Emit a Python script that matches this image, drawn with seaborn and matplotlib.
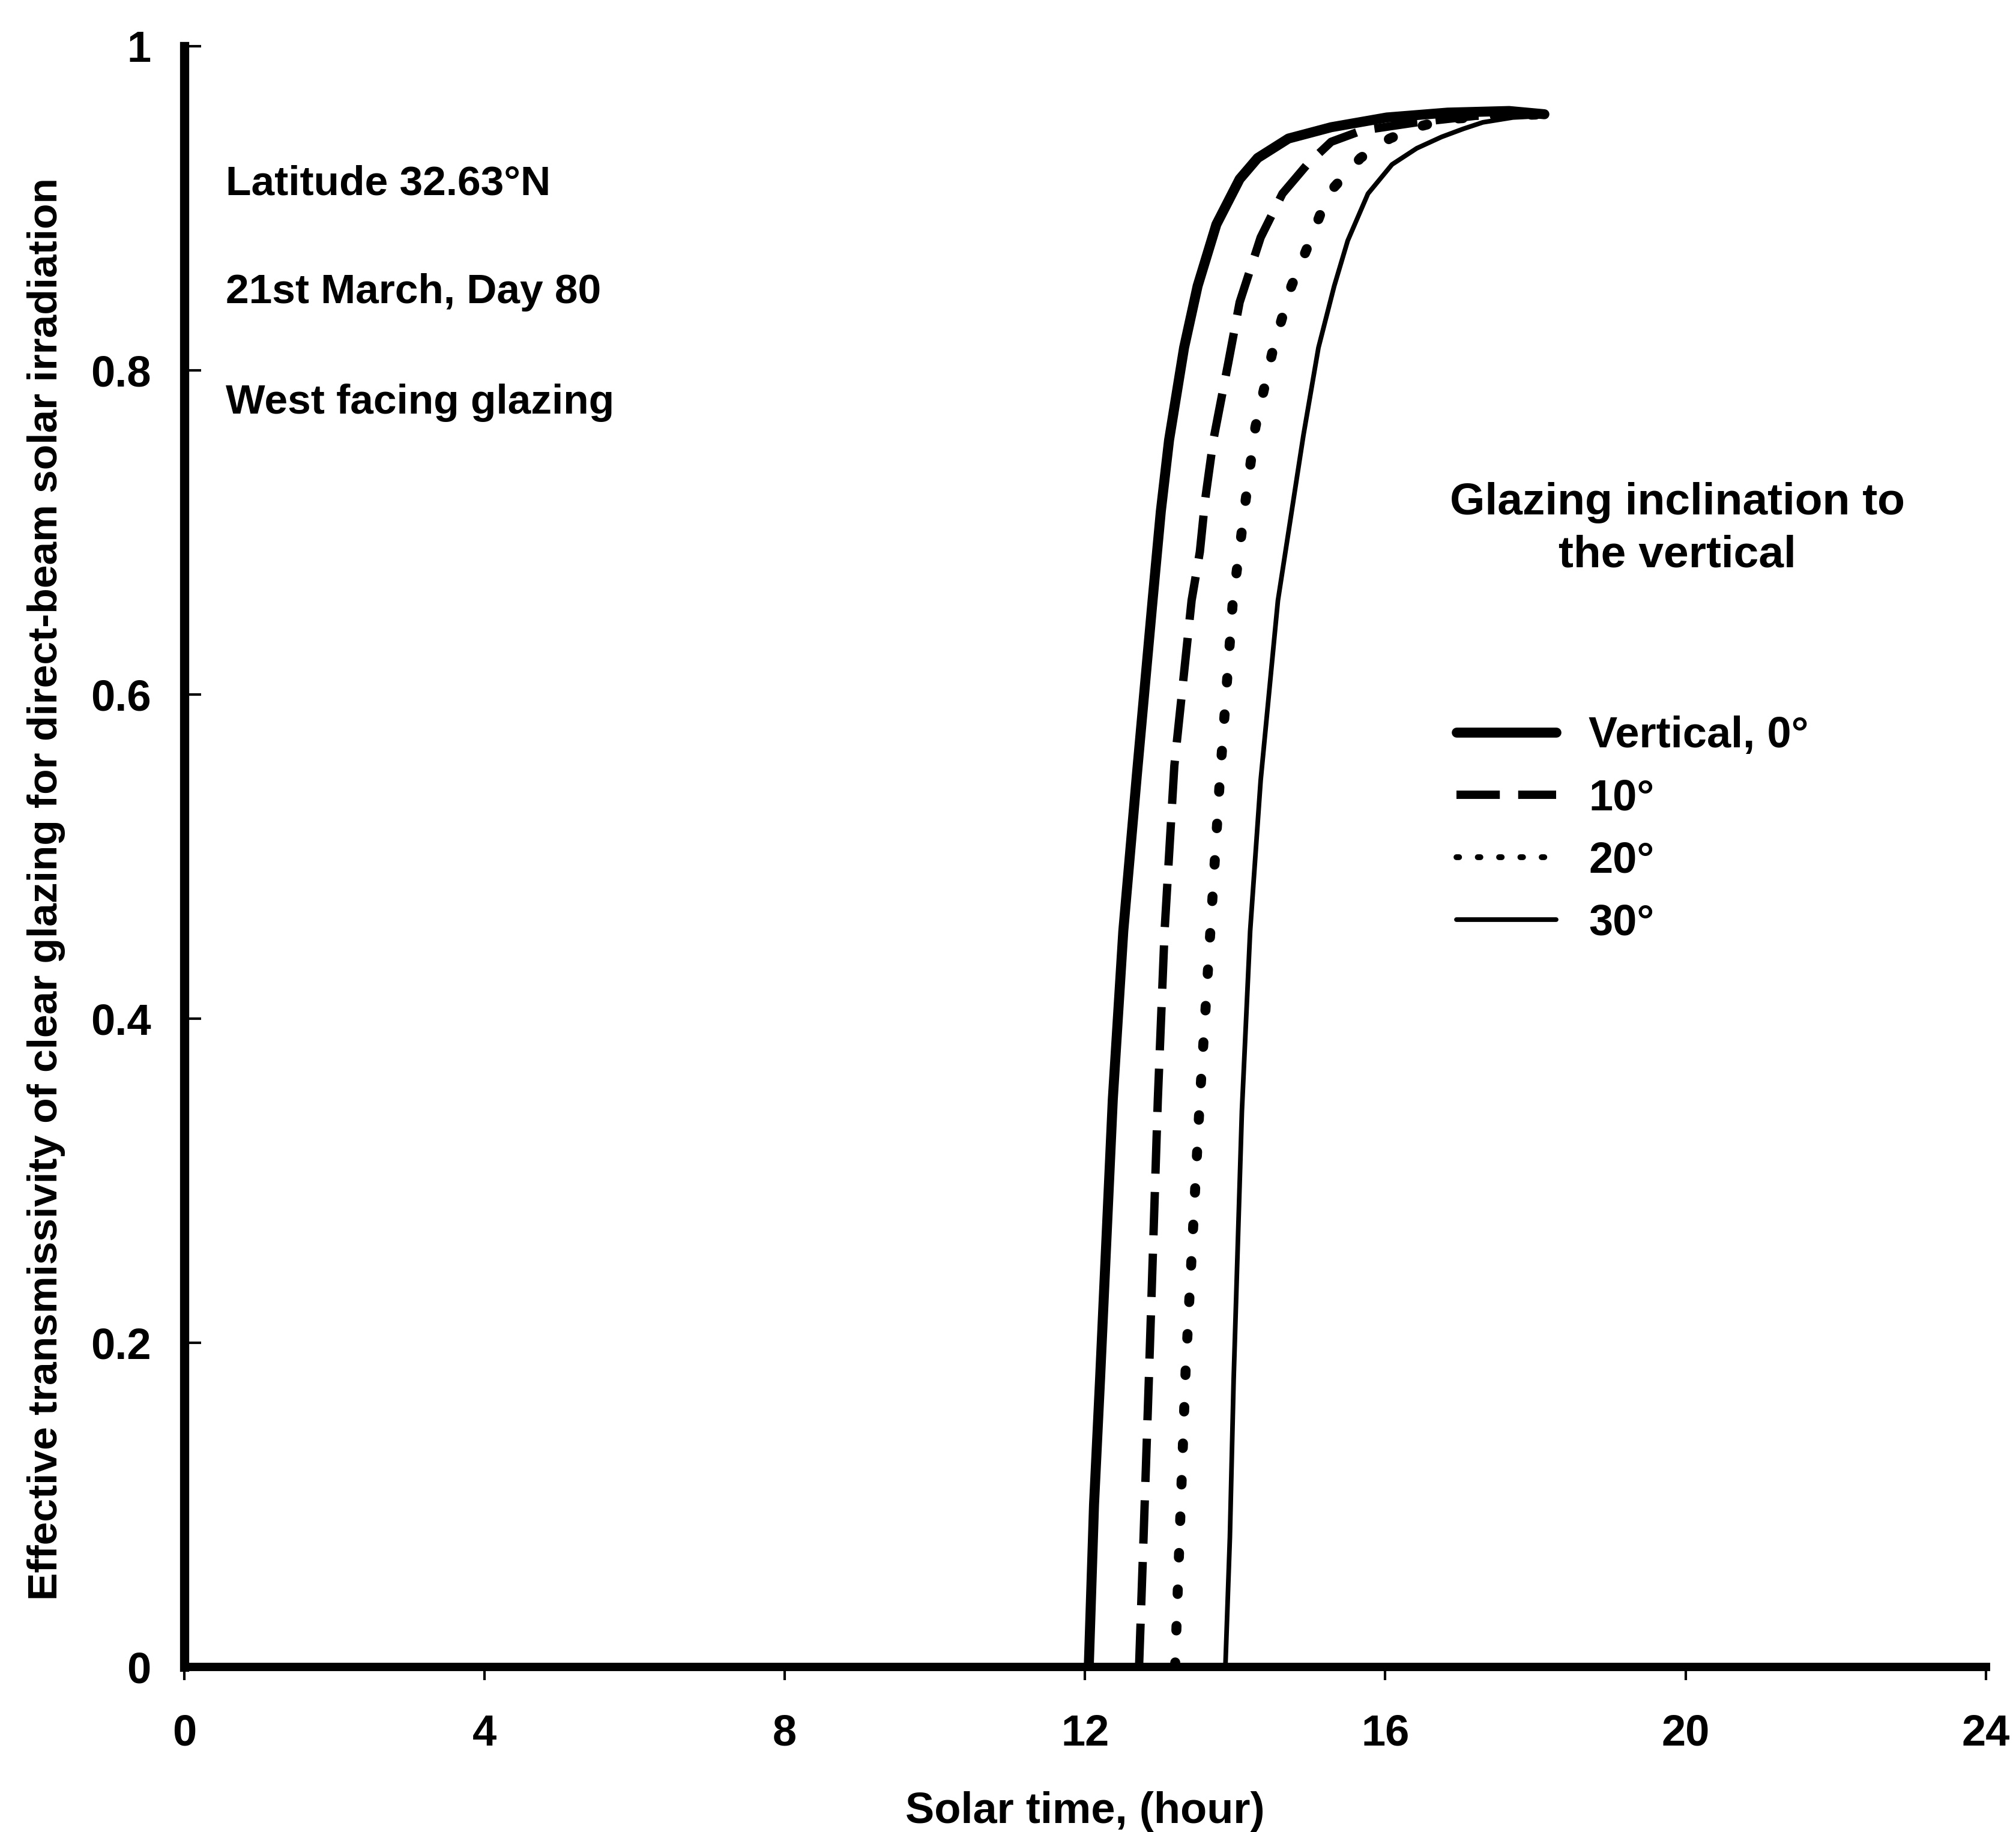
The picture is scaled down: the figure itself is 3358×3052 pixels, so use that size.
import numpy as np
import pandas as pd
import matplotlib
matplotlib.use("Agg")
import matplotlib.pyplot as plt
import seaborn as sns

# Solar time (hour) and effective transmissivity for each glazing inclination
hour_0 = [12.05, 12.12, 12.20, 12.37, 12.51, 12.69, 12.90, 13.01, 13.12, 13.32, 13.50,
          13.75, 14.06, 14.30, 14.71, 15.28, 16.02, 16.83, 17.65, 18.12]
tau_0 = [0.0, 0.10, 0.177, 0.35, 0.454, 0.55, 0.658, 0.713, 0.757, 0.814, 0.852,
         0.890, 0.918, 0.931, 0.943, 0.950, 0.956, 0.959, 0.960, 0.958]

hour_10 = [12.72, 12.78, 12.85, 12.97, 13.06, 13.19, 13.42, 13.53, 13.60, 13.71, 13.91,
           14.06, 14.34, 14.63, 14.96, 15.28, 15.69, 16.42, 17.20, 18.12]
tau_10 = [0.0, 0.08, 0.177, 0.35, 0.454, 0.556, 0.658, 0.688, 0.72, 0.757, 0.805,
          0.842, 0.882, 0.909, 0.927, 0.941, 0.948, 0.953, 0.957, 0.958]

hour_20 = [13.20, 13.26, 13.34, 13.53, 13.67, 13.80, 13.97, 14.06, 14.14, 14.27, 14.51,
           14.75, 15.00, 15.24, 15.67, 16.06, 16.42, 16.83, 17.50, 18.12]
tau_20 = [0.0, 0.08, 0.183, 0.35, 0.454, 0.55, 0.658, 0.69, 0.72, 0.765, 0.814,
          0.852, 0.880, 0.909, 0.931, 0.943, 0.950, 0.955, 0.957, 0.958]

hour_30 = [13.87, 13.93, 13.98, 14.09, 14.20, 14.34, 14.57, 14.71, 14.91, 15.11, 15.32,
           15.50, 15.77, 16.09, 16.42, 16.75, 17.04, 17.30, 17.70, 18.12]
tau_30 = [0.0, 0.08, 0.177, 0.343, 0.454, 0.547, 0.658, 0.70, 0.76, 0.814, 0.852,
          0.880, 0.909, 0.927, 0.937, 0.944, 0.949, 0.953, 0.956, 0.957]

series_labels = ["Vertical, 0°", "10°", "20°", "30°"]
x_ticks = [0, 4, 8, 12, 16, 20, 24]
y_ticks = [0, 0.2, 0.4, 0.6, 0.8, 1.0]
y_tick_labels = ["0", "0.2", "0.4", "0.6", "0.8", "1"]
notes = ["Latitude 32.63°N", "21st March, Day 80", "West facing glazing"]

frames = []
for lab, h, t in zip(series_labels, [hour_0, hour_10, hour_20, hour_30],
                     [tau_0, tau_10, tau_20, tau_30]):
    frames.append(pd.DataFrame({"hour": h, "tau": t, "incl": lab}))
df = pd.concat(frames, ignore_index=True)

sns.set_theme(style="white")
plt.rcParams["font.family"] = ["Liberation Sans", "DejaVu Sans"]
plt.rcParams["font.weight"] = "bold"
plt.rcParams["text.color"] = "black"
plt.rcParams["axes.labelcolor"] = "black"
plt.rcParams["xtick.color"] = "black"
plt.rcParams["ytick.color"] = "black"

fig = plt.figure(figsize=(16.79, 15.26), dpi=200)
ax = fig.add_axes([0.0914, 0.0901, 0.8936, 0.8847])

palette = {k: "black" for k in series_labels}
sizes = {"Vertical, 0°": 6.0, "10°": 5.0, "20°": 6.0, "30°": 2.8}
dashes = {"Vertical, 0°": "", "10°": (5.2, 2.2), "20°": (0.45, 3.2), "30°": ""}

sns.lineplot(data=df, x="hour", y="tau", hue="incl", style="incl", size="incl",
             palette=palette, sizes=sizes, dashes=dashes, hue_order=series_labels,
             style_order=series_labels, size_order=series_labels,
             estimator=None, sort=False, ax=ax)

for line in ax.lines:
    line.set_solid_capstyle("round")
    line.set_solid_joinstyle("round")
    line.set_dash_joinstyle("round")
    line.set_dash_capstyle("butt")
# round dots for the 20° series
ax.lines[2].set_dash_capstyle("round")

old = ax.get_legend()
handles = list(old.legend_handles)
labels = [t.get_text() for t in old.get_texts()]
old.remove()
handles[2].set_dash_capstyle("round")
handles[2].set_linewidth(3.5)

leg = ax.legend(handles, labels, loc="upper left", bbox_to_anchor=(16.95, 0.587),
                bbox_transform=ax.transData, frameon=False, fontsize=26,
                handlelength=2.3, handletextpad=0.75, labelspacing=0.5,
                borderaxespad=0, borderpad=0)
for t in leg.get_texts():
    t.set_fontweight("bold")

ax.text(19.89, 0.702, "Glazing inclination to\nthe vertical", ha="center", va="center",
        multialignment="center", fontsize=27, fontweight="bold", linespacing=1.35)

for txt, yv in zip(notes, [0.915, 0.848, 0.78]):
    ax.text(0.55, yv, txt, ha="left", va="center", fontsize=25, fontweight="bold")

ax.set_xlim(0, 24)
ax.set_ylim(0, 1)
ax.set_xticks(x_ticks)
ax.set_xticklabels([str(v) for v in x_ticks])
ax.set_yticks(y_ticks)
ax.set_yticklabels(y_tick_labels)
ax.tick_params(axis="x", direction="out", length=8, width=1.5, pad=20, labelsize=26,
               bottom=True)
ax.tick_params(axis="y", direction="in", length=10, width=1.5, pad=20, labelsize=26,
               left=True)
for lbl in ax.get_xticklabels() + ax.get_yticklabels():
    lbl.set_fontweight("bold")

ax.set_xlabel("Solar time, (hour)", fontsize=26, fontweight="bold", labelpad=22)
ax.set_ylabel("Effective transmissivity of clear glazing for direct-beam solar irradiation",
              fontsize=25, fontweight="bold")
ax.yaxis.set_label_coords(-0.066, 0.48)

sns.despine(ax=ax)
ax.spines["left"].set_linewidth(5.5)
ax.spines["bottom"].set_linewidth(5.0)
ax.spines["left"].set_color("black")
ax.spines["bottom"].set_color("black")
ax.spines["left"].set_zorder(5)
ax.spines["bottom"].set_zorder(5)
ax.grid(False)

fig.savefig("out.png", dpi=200, facecolor="white")
